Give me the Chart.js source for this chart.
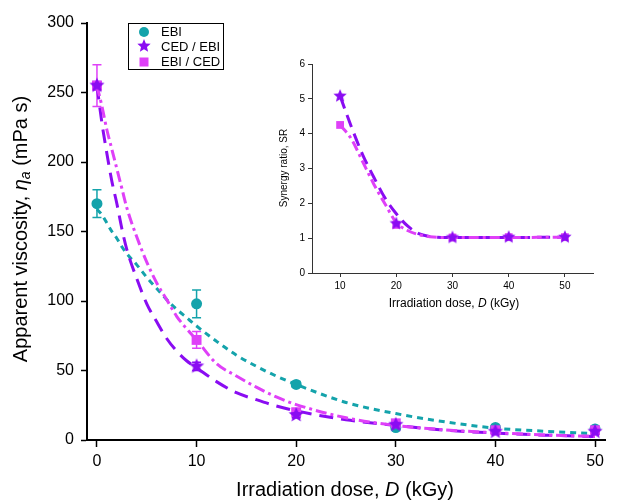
<!DOCTYPE html>
<html>
<head>
<meta charset="utf-8">
<script src="https://cdn.jsdelivr.net/npm/chart.js@4"></script>
<style>
  body { margin: 0; background: #fff; }
  #wrap { position: relative; width: 643px; height: 500px; }
  #main { position: absolute; left: 0; top: 0; }
  #inset { position: absolute; left: 262px; top: 50px; }
</style>
</head>
<body>
<div id="wrap">
  <canvas id="main" width="643" height="500"></canvas>
  <canvas id="inset" width="350" height="270"></canvas>
</div>
<script>
// measured viscosity (mPa s) vs irradiation dose (kGy)
const doses = [0, 10, 20, 30, 40, 50];
const ebi = [170, 98, 40, 9, 9, 8];
const ebiErr = [10, 10, 2, 1, 1, 1];
const cedEbi = [255, 53, 18, 11, 6, 6];
const cedEbiErr = [3, 3, 2, 1, 1, 1];
const ebiCed = [255, 72, 20, 12, 7, 7];
const ebiCedErr = [15, 6, 2, 1, 1, 1];

// fitted decay curves
const fitDose = [0, 0.5, 1, 1.5, 2, 2.5, 3, 4, 5, 6, 7, 8, 9, 10, 12, 14, 16, 18, 20, 25, 30, 35, 40, 45, 50];
const ebiFit = [166, 162, 156, 150, 145, 139, 134, 126, 117, 109, 101, 94, 88, 82, 71, 61, 53, 46, 40, 27, 19, 13, 8.5, 6.3, 4.6];
const cedEbiFit = [255, 228, 206, 186, 170, 152, 137, 116, 98, 85, 73, 64, 57, 52, 42, 34, 29, 24.5, 21, 14.5, 10.5, 7, 5, 3.5, 2.5];
const ebiCedFit = [255, 240, 223, 209, 195, 181, 167, 146, 128, 113, 101, 89, 80, 72, 55, 46, 38, 31, 25.5, 16, 10.5, 7.3, 5.2, 3.6, 2.6];

// synergy ratio (inset)
const srDose = [10, 20, 30, 40, 50];
const srCedEbi = [5.08, 1.42, 1.02, 1.03, 1.03];
const srEbiCed = [4.25, 1.38, 1.02, 1.03, 1.03];
const srFitDose = [10, 12, 14, 16, 18, 20, 22, 24, 26, 28, 30, 40, 50];
const srCedEbiFit = [5.08, 4.2, 3.4, 2.75, 2.15, 1.7, 1.35, 1.13, 1.05, 1.02, 1.02, 1.02, 1.03];
const srEbiCedFit = [4.25, 3.85, 3.2, 2.55, 1.98, 1.45, 1.22, 1.1, 1.04, 1.02, 1.02, 1.02, 1.03];

const TEAL = '#14a3ab';
const PURPLE = '#8a0cf2';
const PINK = '#df40f8';
const FONT = '"Liberation Sans", Arial, sans-serif';

const pts = (xs, ys) => xs.map((x, i) => ({ x: x, y: ys[i] }));

function starImage(color, r) {
  const c = document.createElement('canvas');
  const s = Math.ceil(r * 2 + 2);
  c.width = c.height = s;
  const g = c.getContext('2d');
  g.fillStyle = color;
  g.beginPath();
  for (let i = 0; i < 10; i++) {
    const rad = i % 2 ? r * 0.45 : r;
    const a = -Math.PI / 2 + i * Math.PI / 5;
    g.lineTo(s / 2 + rad * Math.cos(a), s / 2 + rad * Math.sin(a));
  }
  g.closePath();
  g.fill();
  return c;
}

const bigStar = starImage(PURPLE, 8);
const smallStar = starImage(PURPLE, 7);

// draws a line of text made of differently styled pieces, centred on (cx, cy)
function drawRich(ctx, parts, cx, cy, rotate) {
  ctx.save();
  ctx.translate(cx, cy);
  if (rotate) ctx.rotate(-Math.PI / 2);
  let total = 0;
  parts.forEach(p => { ctx.font = p.f; total += ctx.measureText(p.t).width; });
  let x = -total / 2;
  ctx.fillStyle = '#000';
  ctx.textBaseline = 'middle';
  ctx.textAlign = 'left';
  parts.forEach(p => {
    ctx.font = p.f;
    ctx.fillText(p.t, x, p.dy || 0);
    x += ctx.measureText(p.t).width;
  });
  ctx.restore();
}

const errorBars = {
  id: 'errorBars',
  beforeDatasetsDraw(chart) {
    const ctx = chart.ctx;
    const xs = chart.scales.x, ys = chart.scales.y;
    chart.data.datasets.forEach(ds => {
      if (!ds.err) return;
      ctx.save();
      ctx.strokeStyle = ds.backgroundColor;
      ctx.lineWidth = 1.5;
      ds.data.forEach((p, i) => {
        const e = ds.err[i];
        if (!e) return;
        const px = xs.getPixelForValue(p.x);
        const top = ys.getPixelForValue(p.y + e);
        const bot = ys.getPixelForValue(p.y - e);
        ctx.beginPath();
        ctx.moveTo(px, top); ctx.lineTo(px, bot);
        ctx.moveTo(px - 4.5, top); ctx.lineTo(px + 4.5, top);
        ctx.moveTo(px - 4.5, bot); ctx.lineTo(px + 4.5, bot);
        ctx.stroke();
      });
      ctx.restore();
    });
  }
};

const mainDecor = {
  id: 'mainDecor',
  afterDraw(chart) {
    const ctx = chart.ctx;
    // legend box
    ctx.save();
    ctx.strokeStyle = '#000';
    ctx.lineWidth = 1;
    ctx.strokeRect(128.5, 23.5, 95, 46);
    ctx.font = '13px ' + FONT;
    ctx.textBaseline = 'middle';
    ctx.fillStyle = '#000';
    ctx.fillText('EBI', 161, 32);
    ctx.fillText('CED / EBI', 161, 47);
    ctx.fillText('EBI / CED', 161, 62);
    ctx.fillStyle = TEAL;
    ctx.beginPath(); ctx.arc(144, 32, 5, 0, Math.PI * 2); ctx.fill();
    ctx.drawImage(smallStar, 144 - smallStar.width / 2, 46 - smallStar.height / 2);
    ctx.fillStyle = PINK;
    ctx.fillRect(139.5, 57.5, 9, 9);
    ctx.restore();
    // axis titles
    drawRich(ctx, [
      { t: 'Irradiation dose, ', f: '20px ' + FONT },
      { t: 'D', f: 'italic 20px ' + FONT },
      { t: ' (kGy)', f: '20px ' + FONT }
    ], 345, 490, false);
    drawRich(ctx, [
      { t: 'Apparent viscosity, ', f: '20px ' + FONT },
      { t: '\u03b7', f: 'italic 20px ' + FONT },
      { t: 'a', f: 'italic 14px ' + FONT, dy: 5 },
      { t: ' (mPa s)', f: '20px ' + FONT }
    ], 21, 229, true);
  }
};

new Chart(document.getElementById('main'), {
  type: 'line',
  data: {
    datasets: [
      { label: 'CED / EBI', data: pts(doses, cedEbi), err: cedEbiErr, order: 0, showLine: false,
        backgroundColor: PURPLE, borderColor: PURPLE, pointStyle: bigStar },
      { label: 'EBI / CED', data: pts(doses, ebiCed), err: ebiCedErr, order: 1, showLine: false,
        backgroundColor: PINK, borderColor: PINK, pointStyle: 'rect', pointRadius: 7, pointBorderWidth: 0 },
      { label: 'EBI', data: pts(doses, ebi), err: ebiErr, order: 2, showLine: false,
        backgroundColor: TEAL, borderColor: TEAL, pointStyle: 'circle', pointRadius: 5.5, pointBorderWidth: 0 },
      { data: pts(fitDose, ebiFit), order: 5, borderColor: TEAL, borderWidth: 3,
        borderDash: [6, 5], pointRadius: 0, cubicInterpolationMode: 'monotone' },
      { data: pts(fitDose, cedEbiFit), order: 4, borderColor: PURPLE, borderWidth: 3,
        borderDash: [14, 8], pointRadius: 0, cubicInterpolationMode: 'monotone' },
      { data: pts(fitDose, ebiCedFit), order: 3, borderColor: PINK, borderWidth: 3,
        borderDash: [11, 4, 3, 4], pointRadius: 0, cubicInterpolationMode: 'monotone' }
    ]
  },
  options: {
    responsive: false,
    animation: false,
    devicePixelRatio: 1,
    layout: { padding: { top: 23, right: 38, left: 0, bottom: 0 } },
    plugins: { legend: { display: false }, tooltip: { enabled: false } },
    scales: {
      x: {
        type: 'linear', min: -1, max: 51,
        afterFit: s => { s.height = 60; },
        afterBuildTicks: s => { s.ticks = [0, 10, 20, 30, 40, 50].map(v => ({ value: v })); },
        border: { display: true, color: '#000', width: 2 },
        grid: { drawOnChartArea: false, tickLength: 7, tickColor: '#000', tickWidth: 1.5 },
        ticks: { color: '#000', font: { size: 16, family: FONT }, padding: 5 }
      },
      y: {
        min: 0, max: 300,
        afterFit: s => { s.width = 87; },
        border: { display: true, color: '#000', width: 2 },
        grid: { drawOnChartArea: false, tickLength: 6, tickColor: '#000', tickWidth: 1.5 },
        ticks: { stepSize: 50, color: '#000', font: { size: 16, family: FONT }, padding: 7 }
      }
    }
  },
  plugins: [errorBars, mainDecor]
});

const insetTitles = {
  id: 'insetTitles',
  afterDraw(chart) {
    const ctx = chart.ctx;
    drawRich(ctx, [
      { t: 'Irradiation dose, ', f: '12px ' + FONT },
      { t: 'D', f: 'italic 12px ' + FONT },
      { t: ' (kGy)', f: '12px ' + FONT }
    ], 192, 254, false);
    drawRich(ctx, [
      { t: 'Synergy ratio, SR', f: '10px ' + FONT }
    ], 22, 118, true);
  }
};

new Chart(document.getElementById('inset'), {
  type: 'line',
  data: {
    datasets: [
      { data: pts(srDose, srCedEbi), order: 0, showLine: false,
        backgroundColor: PURPLE, borderColor: PURPLE, pointStyle: smallStar },
      { data: pts(srDose, srEbiCed), order: 1, showLine: false,
        backgroundColor: PINK, borderColor: PINK, pointStyle: 'rect', pointRadius: 5.5, pointBorderWidth: 0 },
      { data: pts(srFitDose, srCedEbiFit), order: 3, borderColor: PURPLE, borderWidth: 3,
        borderDash: [13, 7], pointRadius: 0, cubicInterpolationMode: 'monotone' },
      { data: pts(srFitDose, srEbiCedFit), order: 2, borderColor: PINK, borderWidth: 3,
        borderDash: [10, 4, 3, 4], pointRadius: 0, cubicInterpolationMode: 'monotone' }
    ]
  },
  options: {
    responsive: false,
    animation: false,
    devicePixelRatio: 1,
    layout: { padding: { top: 14, right: 19, left: 0, bottom: 0 } },
    plugins: { legend: { display: false }, tooltip: { enabled: false } },
    scales: {
      x: {
        type: 'linear', min: 5, max: 55,
        afterFit: s => { s.height = 47; },
        afterBuildTicks: s => { s.ticks = [10, 20, 30, 40, 50].map(v => ({ value: v })); },
        border: { display: true, color: '#333', width: 1 },
        grid: { drawOnChartArea: false, tickLength: 4, tickColor: '#333' },
        ticks: { color: '#000', font: { size: 10, family: FONT }, padding: 3 }
      },
      y: {
        min: 0, max: 6,
        afterFit: s => { s.width = 50; },
        border: { display: true, color: '#333', width: 1 },
        grid: { drawOnChartArea: false, tickLength: 4, tickColor: '#333' },
        ticks: { stepSize: 1, color: '#000', font: { size: 10, family: FONT }, padding: 3 }
      }
    }
  },
  plugins: [insetTitles]
});
</script>
</body>
</html>
